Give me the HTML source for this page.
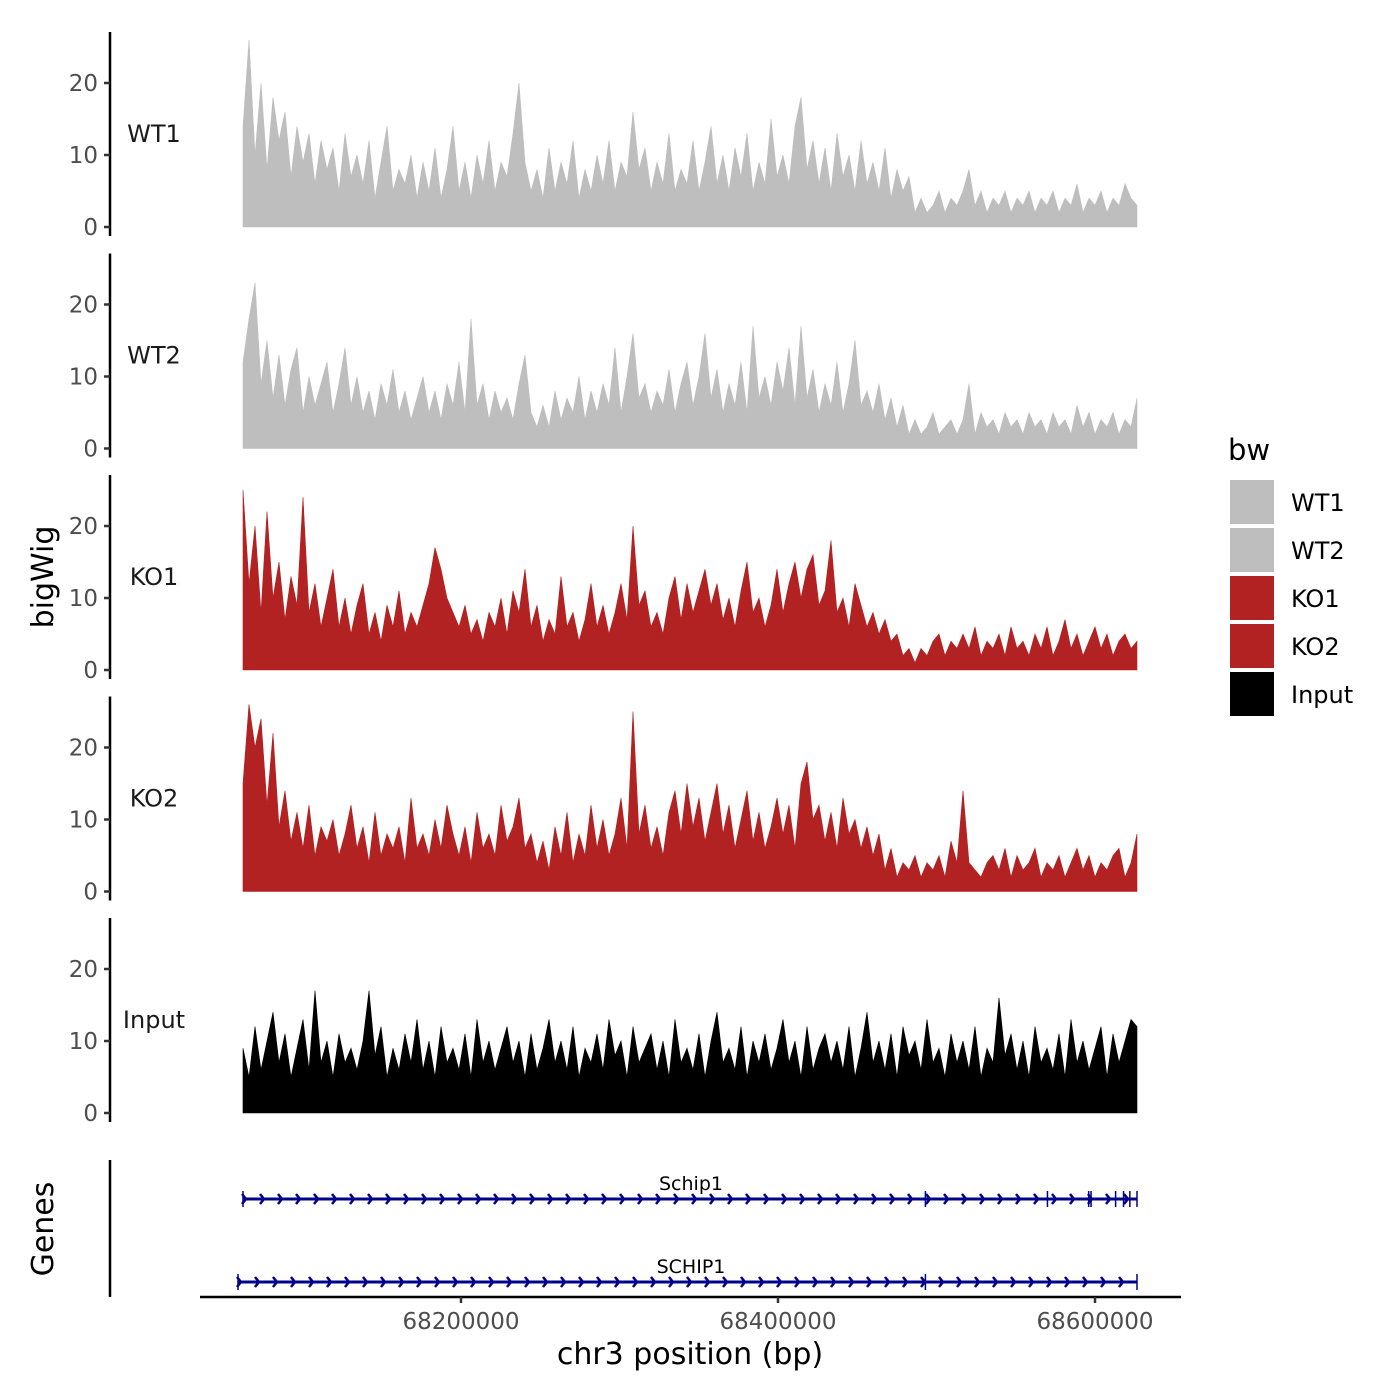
<!DOCTYPE html>
<html><head><meta charset="utf-8"><style>
html,body{margin:0;padding:0;background:#fff;}
svg{display:block;font-family:"DejaVu Sans","Liberation Sans",sans-serif;}
</style></head><body>
<svg id="chart" width="1400" height="1400" viewBox="0 0 1400 1400"></svg>
<script>
const trackNames = ["WT1","WT2","KO1","KO2","Input"];
const trackColors = ["#bebebe","#bebebe","#b22222","#b22222","#000000"];
const yTicks = [0,10,20];
const xTicks = [68200000,68400000,68600000];
const xTickLabels = ["68200000","68400000","68600000"];
const dataStart = 68062460, dataEnd = 68626500;
const wt1 = [14,26,10,20,8,18,12,16,7,14,9,13,6,12,8, 11,5,13,7,10,6,12,4,9,14,5,8,6,10,4, 9,5,11,4,8,14,5,9,4,10,6,12,5,9,7, 13,20,9,5,8,4,11,5,9,6,12,4,8,5,10, 6,12,5,9,7,16,8,11,5,9,6,13,5,8,6, 12,5,9,14,6,10,5,11,7,13,5,9,6,15,7, 10,6,14,18,8,12,6,11,5,13,7,10,5,12,6, 9,5,11,4,8,5,7,2,4,2,3,5,2,4,3, 5,8,3,5,2,4,3,5,2,4,3,5,2,4,3, 5,2,4,3,6,2,4,3,5,2,4,3,6,4,3];
const wt2 = [12,18,23,9,15,7,13,6,11,14,5,10,6,9,12, 5,9,14,6,10,5,8,4,9,6,11,5,8,4,7, 10,5,8,4,9,6,12,5,18,6,9,4,8,5,7, 4,9,13,5,3,6,3,8,4,7,5,10,4,8,5, 9,6,14,5,10,16,7,9,5,8,6,11,5,9,12, 6,10,16,7,11,5,9,6,12,5,17,7,10,6,12, 8,14,6,17,7,11,5,9,6,12,5,9,15,6,8, 5,9,4,7,3,6,2,4,2,3,5,2,3,4,2, 4,9,2,5,3,4,2,5,3,4,2,5,3,4,2, 5,3,4,2,6,3,5,2,4,3,5,2,4,3,7];
const ko1 = [25,12,20,8,22,10,15,7,13,9,24,8,12,6,10, 14,6,10,5,9,12,5,8,4,9,6,11,5,8,6, 9,12,17,14,10,8,6,9,5,7,4,8,6,10,5, 11,8,14,6,9,4,7,5,13,6,8,4,7,12,6, 9,5,8,12,7,20,9,11,6,8,5,10,13,7,12, 8,11,14,9,12,7,10,6,11,15,8,10,6,9,14, 8,12,15,10,14,16,9,11,18,8,10,6,12,9,6, 8,5,7,4,5,2,3,1,3,2,4,5,2,4,3, 5,3,6,2,4,3,5,2,6,3,4,2,5,3,6, 2,4,7,3,5,2,4,6,3,5,2,4,5,3,4];
const ko2 = [15,26,20,24,12,22,9,14,7,11,6,12,5,9,7, 10,5,8,12,6,9,4,11,5,8,6,9,4,13,6, 8,5,10,6,12,8,5,9,4,11,6,8,5,12,7, 9,13,6,8,4,7,3,9,5,11,4,8,5,12,6, 10,5,8,13,6,25,8,12,6,9,5,11,14,8,15, 9,13,7,11,15,8,12,6,10,14,7,11,6,9,13, 8,12,6,15,18,10,12,7,11,6,13,8,10,6,9, 5,8,3,6,2,4,3,5,2,4,3,5,2,7,4, 14,4,3,2,4,5,3,6,2,5,3,4,6,2,4, 3,5,2,4,6,3,5,2,4,3,5,6,2,4,8];
const input = [9,5,12,6,10,14,7,11,5,9,13,6,17,7,10, 5,11,7,9,6,10,17,8,12,5,9,6,11,7,13, 6,10,5,12,7,9,6,11,5,13,7,10,6,9,12, 7,10,5,11,6,9,13,7,10,6,12,5,9,7,11, 6,13,8,10,5,12,7,9,11,6,10,5,13,7,9, 6,11,5,10,14,7,9,6,12,5,10,7,11,6,9, 13,7,10,5,12,6,9,11,7,10,6,12,5,9,14, 7,10,6,11,5,12,8,10,6,13,7,9,5,11,7, 10,6,12,5,9,7,16,8,11,6,10,5,12,7,9, 6,11,5,13,7,10,6,9,12,5,11,7,10,13,12];
const series = [wt1,wt2,ko1,ko2,input];
const geneNames = ["Schip1","SCHIP1"];
const geneStarts = [68062460,68059300];
const geneEnds = [68626500,68626500];
const exonPos = [[68062460,68493000,68570000,68596000,68597500,68613000,68618000,68622000,68626500],[68059300,68493000,68626500]];

const svg = document.getElementById('chart');
const NS = 'http://www.w3.org/2000/svg';
function el(tag, attrs, parent){const e=document.createElementNS(NS,tag);for(const k in attrs)e.setAttribute(k,attrs[k]);(parent||svg).appendChild(e);return e;}
const xScale = v => 461 + (v-68200000)*634/400000;
const base0 = 227, panelGap = 221.5, pxPerUnit = 7.2;

series.forEach((vals,i)=>{
  const base = base0 + i*panelGap;
  const yScale = v => base - v*pxPerUnit;
  const g = el('g',{});
  
  
  const ax = el('line',{x1:110,x2:110,y1:base-195,y2:base+9,stroke:'#000','stroke-width':2.5},g);
  
  
  yTicks.forEach(t=>{
    const y=yScale(t);
    el('line',{x1:104,x2:110,y1:y,y2:y,stroke:'#333','stroke-width':2.5},g);
    const tx=el('text',{x:98,y:y+8,'text-anchor':'end','font-size':23,fill:'#4d4d4d'},g);
    tx.textContent=t;
    
    
  });
  const lab=el('text',{x:154,y:base-85,'text-anchor':'middle','font-size':24,fill:'#1a1a1a'},g);
  lab.textContent=trackNames[i];
  
  
  const n=vals.length;
  const step=(dataEnd-dataStart)/(n-1);
  let d='M'+xScale(dataStart)+','+base;
  vals.forEach((v,j)=>{d+=' L'+xScale(dataStart+j*step).toFixed(1)+','+yScale(v).toFixed(1);});
  d+=' L'+xScale(dataEnd)+','+base+' Z';
  const p=el('path',{d:d,fill:trackColors[i],stroke:trackColors[i],'stroke-width':0.6},g);
  
  
});

const bt=el('text',{x:0,y:0,transform:'translate(53,577) rotate(-90)','text-anchor':'middle','font-size':30,fill:'#000'});
bt.textContent='bigWig';



const gax=el('line',{x1:110,x2:110,y1:1160,y2:1297,stroke:'#000','stroke-width':2.5});


const gt=el('text',{x:0,y:0,transform:'translate(53,1229) rotate(-90)','text-anchor':'middle','font-size':30,fill:'#000'});
gt.textContent='Genes';


const geneY=[1199,1282];
geneNames.forEach((name,i)=>{
  const g=el('g',{});
  
  
  const y=geneY[i], x1=xScale(geneStarts[i]), x2=xScale(geneEnds[i]);
  el('line',{x1:x1,x2:x2,y1:y,y2:y,stroke:'#00008b','stroke-width':3},g);
  let d='';
  for(let x=x1+3;x<=x2;x+=18){d+='M'+(x-4)+','+(y-5)+' L'+x+','+y+' L'+(x-4)+','+(y+5)+' ';}
  el('path',{d:d,fill:'none',stroke:'#00008b','stroke-width':2.5},g);
  exonPos[i].forEach(e=>{const x=xScale(e);el('line',{x1:x,x2:x,y1:y-8,y2:y+8,stroke:'#00008b','stroke-width':1.5},g);});
  const t=el('text',{x:691,y:y-9,'text-anchor':'middle','font-size':19,fill:'#000'},g);
  t.textContent=name;
});

const xa=el('line',{x1:200,x2:1181,y1:1297,y2:1297,stroke:'#000','stroke-width':2.5});


xTicks.forEach((t,i)=>{
  const x=xScale(t);
  el('line',{x1:x,x2:x,y1:1297,y2:1303,stroke:'#333','stroke-width':2.5});
  const tx=el('text',{x:x,y:1329,'text-anchor':'middle','font-size':23,fill:'#4d4d4d'});
  tx.textContent=xTickLabels[i];
  
  
});
const xt=el('text',{x:690,y:1364,'text-anchor':'middle','font-size':30,fill:'#000'});
xt.textContent='chr3 position (bp)';



const lg=el('g',{});


const lt=el('text',{x:1228,y:460,'font-size':29,fill:'#000'},lg);
lt.textContent='bw';
trackNames.forEach((n,i)=>{
  const g=el('g',{},lg);
  
  
  const y=480+i*48;
  el('rect',{x:1230,y:y,width:44,height:44,fill:trackColors[i]},g);
  const t=el('text',{x:1291,y:y+31,'font-size':24,fill:'#000'},g);
  t.textContent=n;
});
</script>
</body></html>
